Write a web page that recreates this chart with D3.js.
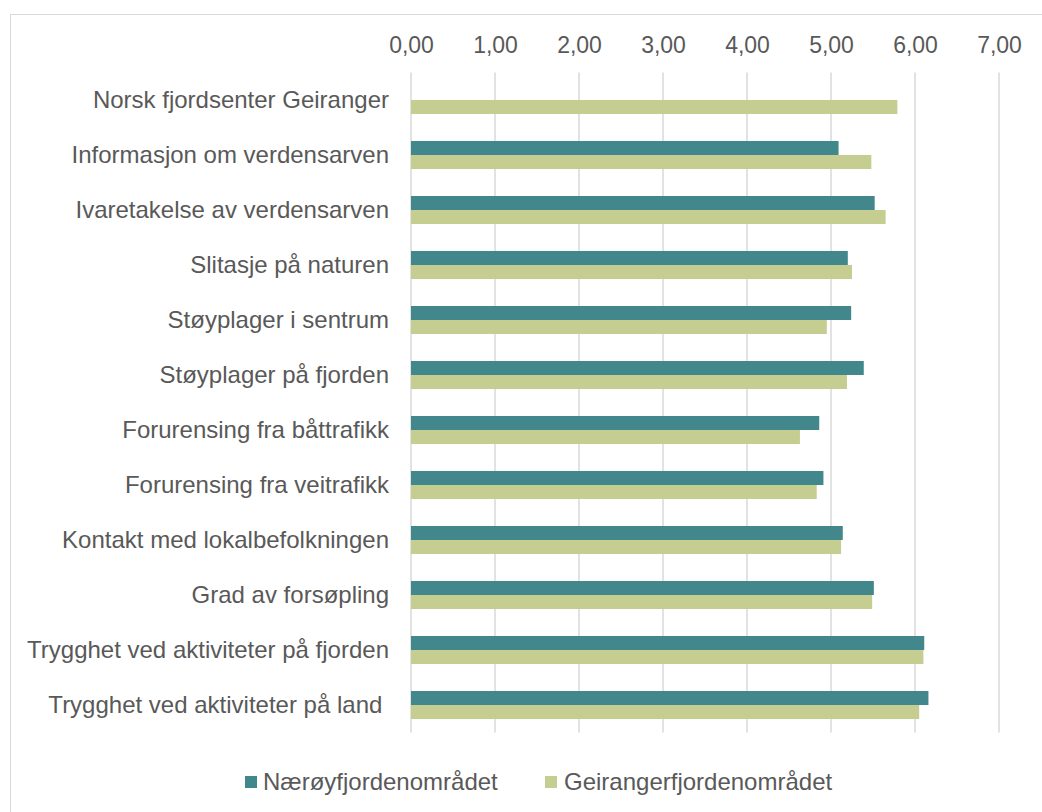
<!DOCTYPE html>
<html>
<head>
<meta charset="utf-8">
<script src="https://cdn.jsdelivr.net/npm/d3@7"></script>
<style>
  body { margin: 0; background: #fff; }
  svg { display: block; font-family: "Liberation Sans", Arial, sans-serif; }
  text { white-space: pre; }
</style>
</head>
<body>
<svg id="chart" width="1042" height="812"></svg>
<script>
const categories = [
  "Norsk fjordsenter Geiranger",
  "Informasjon om verdensarven",
  "Ivaretakelse av verdensarven",
  "Slitasje på naturen",
  "Støyplager i sentrum",
  "Støyplager på fjorden",
  "Forurensing fra båttrafikk",
  "Forurensing fra veitrafikk",
  "Kontakt med lokalbefolkningen",
  "Grad av forsøpling",
  "Trygghet ved aktiviteter på fjorden",
  "Trygghet ved aktiviteter på land "
];
const seriesNames = ["Nærøyfjordenområdet", "Geirangerfjordenområdet"];
const naeroy = [null, 5.09, 5.52, 5.20, 5.24, 5.39, 4.86, 4.91, 5.14, 5.51, 6.11, 6.16];
const geiranger = [5.79, 5.48, 5.65, 5.25, 4.95, 5.19, 4.63, 4.83, 5.12, 5.49, 6.10, 6.05];
const tickValues = [0, 1, 2, 3, 4, 5, 6, 7];
const colors = ["#41878B", "#C6CD90"];

(function () {
const svg = d3.select("#chart");
const textColor = "#595959";
const gridColor = "#d9d9d9";

// frame
svg.append("rect")
  .attr("x", 10.5).attr("y", 14.5)
  .attr("width", 1040).attr("height", 820)
  .attr("fill", "none").attr("stroke", gridColor).attr("stroke-width", 1);

const plotLeft = 411, plotRight = 999, plotTop = 72.5, plotBottom = 732.5;

const x = d3.scaleLinear().domain([0, 7]).range([plotLeft, plotRight]);
const y = d3.scaleBand().domain(categories).range([plotTop, plotBottom]).paddingInner(27 / 55).paddingOuter(27 / 110);
const ySub = d3.scaleBand().domain(seriesNames).range([0, y.bandwidth()]);

// gridlines
svg.append("g").selectAll("line").data(tickValues).join("line")
  .attr("x1", d => x(d)).attr("x2", d => x(d))
  .attr("y1", plotTop).attr("y2", plotBottom)
  .attr("stroke", gridColor).attr("stroke-width", 1.5);

// top axis labels
const fmt = d => d3.format(".2f")(d).replace(".", ",");
const axis = d3.axisTop(x).tickValues(tickValues).tickFormat(fmt).tickSize(0).tickPadding(0);
const ax = svg.append("g").attr("transform", `translate(0,53)`).call(axis);
ax.select(".domain").remove();
ax.selectAll("text").attr("fill", textColor).attr("font-size", 23)
  .attr("font-family", "Liberation Sans, Arial, sans-serif").attr("dy", 0);

// bars
const seriesData = [naeroy, geiranger];
seriesData.forEach((vals, si) => {
  svg.append("g").selectAll("rect")
    .data(categories.map((c, i) => ({ c, v: vals[i] })).filter(d => d.v != null))
    .join("rect")
    .attr("x", x(0))
    .attr("y", d => y(d.c) + ySub(seriesNames[si]))
    .attr("width", d => x(d.v) - x(0))
    .attr("height", ySub.bandwidth())
    .attr("fill", colors[si]);
});

// category labels
const yAxis = d3.axisLeft(y).tickSize(0).tickPadding(0);
const ay = svg.append("g").attr("transform", `translate(389,0)`).call(yAxis);
ay.select(".domain").remove();
ay.selectAll("text").attr("fill", textColor).attr("font-size", 24)
  .attr("font-family", "Liberation Sans, Arial, sans-serif")
  .attr("dy", "0.34em");

// legend
const legendItems = [
  { name: seriesNames[0], color: colors[0], sx: 245, tx: 263 },
  { name: seriesNames[1], color: colors[1], sx: 545, tx: 564 }
];
const lg = svg.append("g");
legendItems.forEach(it => {
  lg.append("rect").attr("x", it.sx).attr("y", 776).attr("width", 12).attr("height", 12).attr("fill", it.color);
  lg.append("text").attr("x", it.tx).attr("y", 790).attr("fill", textColor).attr("font-size", 24).text(it.name);
});
})();
</script>
</body>
</html>
